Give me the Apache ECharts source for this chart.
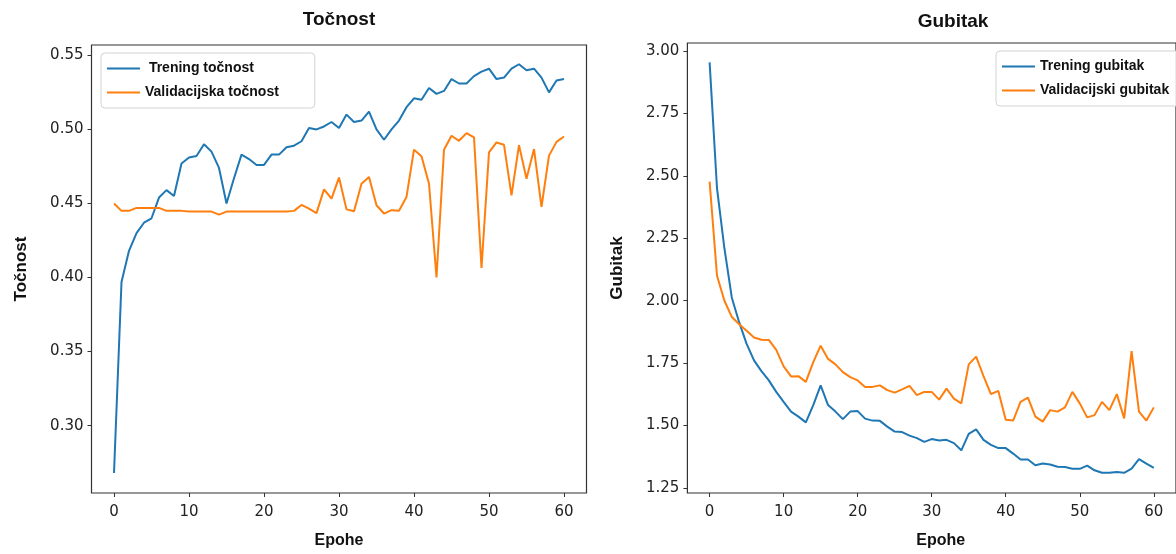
<!DOCTYPE html>
<html>
<head>
<meta charset="utf-8">
<script src="https://cdn.jsdelivr.net/npm/echarts@6/dist/echarts.min.js"></script>
<style>
  html, body { margin: 0; padding: 0; background: #fff; }
  #chart { width: 1176px; height: 554px; }
</style>
</head>
<body>
<div id="chart"></div>
<script>
// epohe 0..60
const epochs = [];
for (let i = 0; i <= 60; i++) epochs.push(i);

// točnost
const accTrain = [0.268, 0.397, 0.418, 0.430, 0.437, 0.440, 0.454, 0.459, 0.455, 0.477,
  0.481, 0.482, 0.490, 0.485, 0.474, 0.450, 0.467, 0.483, 0.480, 0.476,
  0.476, 0.483, 0.483, 0.488, 0.489, 0.492, 0.501, 0.500, 0.502, 0.505,
  0.501, 0.510, 0.505, 0.506, 0.512, 0.500, 0.493, 0.500, 0.506, 0.515,
  0.521, 0.520, 0.528, 0.524, 0.526, 0.534, 0.531, 0.531, 0.536, 0.539,
  0.541, 0.534, 0.535, 0.541, 0.544, 0.540, 0.541, 0.535, 0.525, 0.533,
  0.534];
const accVal = [0.450, 0.445, 0.445, 0.447, 0.447, 0.447, 0.447, 0.445, 0.445, 0.445,
  0.4445, 0.4445, 0.4445, 0.4445, 0.4425, 0.4445, 0.4445, 0.4445, 0.4445, 0.4445,
  0.4445, 0.4445, 0.4445, 0.4445, 0.445, 0.449, 0.4465, 0.4435, 0.4595, 0.4533,
  0.4675, 0.446, 0.4448, 0.4633, 0.4678, 0.4488, 0.4432, 0.4455, 0.4451, 0.4544,
  0.4863, 0.4819, 0.4633, 0.400, 0.4863, 0.4957, 0.4923, 0.4975, 0.4946, 0.4064,
  0.4845, 0.4912, 0.4896, 0.4555, 0.4894, 0.4667, 0.4867, 0.4477, 0.4823, 0.4916,
  0.4952];

// gubitak
const lossTrain = [2.954, 2.45, 2.21, 2.012, 1.913, 1.827, 1.761, 1.718, 1.681, 1.635,
  1.595, 1.556, 1.536, 1.513, 1.582, 1.661, 1.582, 1.556, 1.526, 1.556,
  1.558, 1.528, 1.520, 1.519, 1.496, 1.476, 1.474, 1.460, 1.450, 1.435,
  1.446, 1.440, 1.443, 1.430, 1.401, 1.467, 1.485, 1.443, 1.423, 1.410,
  1.410, 1.388, 1.364, 1.364, 1.341, 1.348, 1.344, 1.335, 1.334, 1.327,
  1.327, 1.340, 1.321, 1.311, 1.311, 1.314, 1.311, 1.328, 1.366, 1.348,
  1.331];
const lossVal = [2.477, 2.10, 2.00, 1.935, 1.906, 1.880, 1.853, 1.844, 1.843, 1.803,
  1.737, 1.697, 1.698, 1.675, 1.754, 1.820, 1.767, 1.745, 1.714, 1.694,
  1.681, 1.655, 1.655, 1.661, 1.642, 1.632, 1.645, 1.659, 1.622, 1.635,
  1.635, 1.604, 1.648, 1.608, 1.589, 1.745, 1.776, 1.698, 1.626, 1.639,
  1.523, 1.520, 1.595, 1.612, 1.536, 1.516, 1.562, 1.556, 1.573, 1.635,
  1.589, 1.533, 1.542, 1.595, 1.562, 1.626, 1.529, 1.798, 1.556, 1.520,
  1.573];

// oznake osi
const xTicks = [0, 10, 20, 30, 40, 50, 60];
const accTicks = [0.30, 0.35, 0.40, 0.45, 0.50, 0.55];
const lossTicks = [1.25, 1.50, 1.75, 2.00, 2.25, 2.50, 2.75, 3.00];

const BLUE = '#1f77b4';
const ORANGE = '#ff7f0e';
const tickFont = { fontFamily: 'DejaVu Sans', fontSize: 15, color: '#222' };
const boldFont = 'Liberation Sans';

function pairs(vals) {
  return epochs.map((e, i) => [e, vals[i]]);
}

function xAxis(idx, pad) {
  return {
    type: 'value', gridIndex: idx, min: -3, max: 63,
    axisLine: { show: false, onZero: false },
    axisTick: { show: true, length: 4, customValues: xTicks, lineStyle: { color: '#333' } },
    axisLabel: Object.assign({ customValues: xTicks, margin: 12 }, tickFont),
    splitLine: { show: false },
    name: 'Epohe', nameLocation: 'middle', nameGap: 40,
    nameTextStyle: { fontFamily: boldFont, fontWeight: 'bold', fontSize: 16, color: '#111', padding: [0, 0, 0, pad] }
  };
}

function yAxis(idx, min, max, ticks, name) {
  return {
    type: 'value', gridIndex: idx, min: min, max: max,
    axisLine: { show: false, onZero: false },
    axisTick: { show: true, length: 4, customValues: ticks, lineStyle: { color: '#333' } },
    axisLabel: Object.assign({ customValues: ticks, margin: 8, formatter: v => v.toFixed(2) }, tickFont),
    splitLine: { show: false },
    name: name, nameLocation: 'middle', nameGap: 62, nameRotate: 90,
    nameTextStyle: { fontFamily: boldFont, fontWeight: 'bold', fontSize: 17, color: '#111' }
  };
}

function legend(left, top, names, padRight) {
  return {
    orient: 'vertical', left: left, top: top, data: names,
    icon: 'rect', itemWidth: 33, itemHeight: 2, itemGap: 7,
    padding: [7, padRight, 7, 6],
    backgroundColor: 'rgba(255,255,255,0.85)', borderColor: '#d3d3d3', borderWidth: 1, borderRadius: 4,
    textStyle: { fontFamily: boldFont, fontWeight: 'bold', fontSize: 14, color: '#111', lineHeight: 17 }
  };
}

function line(name, vals, idx, color) {
  return {
    name: name, type: 'line', xAxisIndex: idx, yAxisIndex: idx,
    data: pairs(vals), showSymbol: false, symbol: 'none',
    lineStyle: { width: 2, color: color }, itemStyle: { color: color }
  };
}

const chart = echarts.init(document.getElementById('chart'));
chart.setOption({
  animation: false,
  backgroundColor: '#fff',
  grid: [
    { left: 91.5, top: 45, width: 495, height: 452, show: true, borderColor: '#333', borderWidth: 1.2 },
    { left: 687.4, top: 43, width: 497, height: 454, show: true, borderColor: '#333', borderWidth: 1.2 }
  ],
  xAxis: [xAxis(0, 0), xAxis(1, 18)],
  yAxis: [
    yAxis(0, 0.2545, 0.5570, accTicks, 'Točnost'),
    yAxis(1, 1.2302, 3.0317, lossTicks, 'Gubitak')
  ],
  legend: [
    legend(101, 53, [' Trening točnost', 'Validacijska točnost'], 36),
    legend(996, 51, ['Trening gubitak', 'Validacijski gubitak'], 20)
  ],
  graphic: [
    { type: 'text', x: 339, y: 20, style: { text: 'Točnost', align: 'center', verticalAlign: 'middle', font: 'bold 19px "Liberation Sans"', fill: '#111' } },
    { type: 'text', x: 953, y: 22, style: { text: 'Gubitak', align: 'center', verticalAlign: 'middle', font: 'bold 19px "Liberation Sans"', fill: '#111' } }
  ],
  series: [
    line(' Trening točnost', accTrain, 0, BLUE),
    line('Validacijska točnost', accVal, 0, ORANGE),
    line('Trening gubitak', lossTrain, 1, BLUE),
    line('Validacijski gubitak', lossVal, 1, ORANGE)
  ]
});
</script>
</body>
</html>
